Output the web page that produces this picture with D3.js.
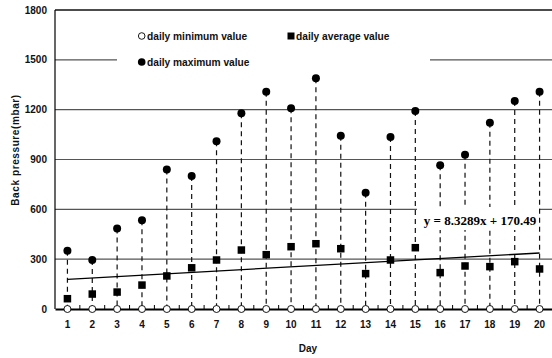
<!DOCTYPE html>
<html>
<head>
<meta charset="utf-8">
<script src="https://cdn.jsdelivr.net/npm/d3@7"></script>
<style>
  body { margin: 0; background: #fff; }
  svg { display: block; font-family: Arial, "Liberation Sans", sans-serif; }
</style>
</head>
<body>
<svg id="chart" width="552" height="358"></svg>
<script>
const days = d3.range(1, 21);
const maxVals = [350, 295, 485, 535, 840, 800, 1010, 1178, 1308, 1208, 1389, 1043, 700, 1035, 1192, 865, 929, 1121, 1252, 1308];
const avgVals = [62, 90, 102, 144, 199, 248, 295, 355, 327, 375, 393, 363, 213, 295, 369, 219, 259, 255, 285, 241];
const minVals = [0, 0, 0, 0, 0, 0, 0, 0, 0, 0, 0, 0, 0, 0, 0, 0, 0, 0, 0, 0];
const yTicks = [0, 300, 600, 900, 1200, 1500, 1800];
const trendSlope = 8.3289,
  trendIntercept = 170.49;

const width = 552,
  height = 358;
const margin = { top: 10, right: 0, bottom: 49, left: 55 };

const svg = d3.select("#chart");

const x = d3
  .scaleBand()
  .domain(days)
  .range([margin.left, width - margin.right])
  .padding(0);
const cx = d => x(d) + x.bandwidth() / 2;

const y = d3
  .scaleLinear()
  .domain([0, 1800])
  .range([height - margin.bottom, margin.top]);

// gridlines
svg
  .append("g")
  .selectAll("line")
  .data(yTicks.filter(t => t > 0 && t < 1800))
  .join("line")
  .attr("x1", margin.left)
  .attr("x2", width)
  .attr("y1", d => y(d))
  .attr("y2", d => y(d))
  .attr("stroke", "#555")
  .attr("stroke-width", 1.2);

// drop lines from max down to zero
svg
  .append("g")
  .selectAll("line")
  .data(days)
  .join("line")
  .attr("x1", d => cx(d))
  .attr("x2", d => cx(d))
  .attr("y1", (d, i) => y(maxVals[i]))
  .attr("y2", y(0))
  .attr("stroke", "#111")
  .attr("stroke-width", 1.2)
  .attr("stroke-dasharray", "5,4");

// trend line
svg
  .append("line")
  .attr("x1", cx(1))
  .attr("x2", cx(20))
  .attr("y1", y(trendSlope * 1 + trendIntercept))
  .attr("y2", y(trendSlope * 20 + trendIntercept))
  .attr("stroke", "#000")
  .attr("stroke-width", 1.3);

// equation label (white box)
svg
  .append("rect")
  .attr("x", 417)
  .attr("y", 207)
  .attr("width", 122)
  .attr("height", 23)
  .attr("fill", "#fff");
svg
  .append("text")
  .attr("x", 480)
  .attr("y", 225)
  .attr("text-anchor", "middle")
  .attr("font-family", "'Times New Roman', 'Liberation Serif', serif")
  .attr("font-weight", "bold")
  .attr("font-size", 13)
  .text(`y = ${trendSlope}x + ${trendIntercept}`);

// legend
const legend = svg.append("g");
legend
  .append("rect")
  .attr("x", 117)
  .attr("y", 18)
  .attr("width", 313)
  .attr("height", 55)
  .attr("fill", "#fff");
legend
  .append("circle")
  .attr("cx", 141.7)
  .attr("cy", 36)
  .attr("r", 3.3)
  .attr("fill", "#fff")
  .attr("stroke", "#000")
  .attr("stroke-width", 0.9);
legend
  .append("rect")
  .attr("x", 287.5)
  .attr("y", 32.5)
  .attr("width", 7)
  .attr("height", 7)
  .attr("fill", "#000");
legend
  .append("circle")
  .attr("cx", 141.7)
  .attr("cy", 62)
  .attr("r", 3.8)
  .attr("fill", "#000");
const legendText = [
  { label: "daily minimum value", x: 147, y: 39.5 },
  { label: "daily average value", x: 296, y: 39.5 },
  { label: "daily maximum value", x: 147, y: 65.5 }
];
legend
  .selectAll("text")
  .data(legendText)
  .join("text")
  .attr("x", d => d.x)
  .attr("y", d => d.y)
  .attr("font-size", 10.2)
  .attr("font-weight", "bold")
  .attr("fill", "#111")
  .text(d => d.label);

// markers
svg
  .append("g")
  .selectAll("circle")
  .data(days)
  .join("circle")
  .attr("cx", d => cx(d))
  .attr("cy", (d, i) => y(maxVals[i]))
  .attr("r", 4)
  .attr("fill", "#000");

svg
  .append("g")
  .selectAll("rect")
  .data(days)
  .join("rect")
  .attr("x", d => cx(d) - 3.75)
  .attr("y", (d, i) => y(avgVals[i]) - 3.75)
  .attr("width", 7.5)
  .attr("height", 7.5)
  .attr("fill", "#000");

// axes
svg
  .append("line")
  .attr("x1", margin.left)
  .attr("x2", width)
  .attr("y1", margin.top)
  .attr("y2", margin.top)
  .attr("stroke", "#111")
  .attr("stroke-width", 1.5);
svg
  .append("line")
  .attr("x1", margin.left)
  .attr("x2", margin.left)
  .attr("y1", margin.top)
  .attr("y2", y(0))
  .attr("stroke", "#000")
  .attr("stroke-width", 1.2);

const xAxis = svg
  .append("g")
  .attr("transform", `translate(0,${y(0)})`)
  .call(
    d3
      .axisBottom(x)
      .tickSize(0)
      .tickPadding(12)
  );
xAxis.select(".domain").attr("stroke", "#000").attr("stroke-width", 2);
xAxis
  .selectAll("text")
  .attr("font-size", 10)
  .attr("font-weight", "bold")
  .attr("font-family", "Arial, 'Liberation Sans', sans-serif")
  .attr("fill", "#111");

// minor ticks at category boundaries, pointing up
svg
  .append("g")
  .selectAll("line")
  .data(days.slice(1))
  .join("line")
  .attr("x1", d => x(d))
  .attr("x2", d => x(d))
  .attr("y1", y(0))
  .attr("y2", y(0) - 4)
  .attr("stroke", "#000")
  .attr("stroke-width", 1);

// min markers on top of axis
svg
  .append("g")
  .selectAll("circle")
  .data(days)
  .join("circle")
  .attr("cx", d => cx(d))
  .attr("cy", (d, i) => y(minVals[i]))
  .attr("r", 3.5)
  .attr("fill", "#fff")
  .attr("stroke", "#000")
  .attr("stroke-width", 0.9);

// y tick labels
svg
  .append("g")
  .selectAll("text")
  .data(yTicks)
  .join("text")
  .attr("x", 47)
  .attr("y", d => y(d) + 3.6)
  .attr("text-anchor", "end")
  .attr("font-size", 10)
  .attr("font-weight", "bold")
  .attr("fill", "#111")
  .text(d => d);

// axis titles
svg
  .append("text")
  .attr("x", 308)
  .attr("y", 352)
  .attr("text-anchor", "middle")
  .attr("font-size", 10)
  .attr("font-weight", "bold")
  .attr("fill", "#111")
  .text("Day");
svg
  .append("text")
  .attr("transform", "translate(19,150) rotate(-90)")
  .attr("text-anchor", "middle")
  .attr("font-size", 10)
  .attr("font-weight", "bold")
  .attr("letter-spacing", 0.6)
  .attr("fill", "#111")
  .text("Back pressure(mbar)");
</script>
</body>
</html>
